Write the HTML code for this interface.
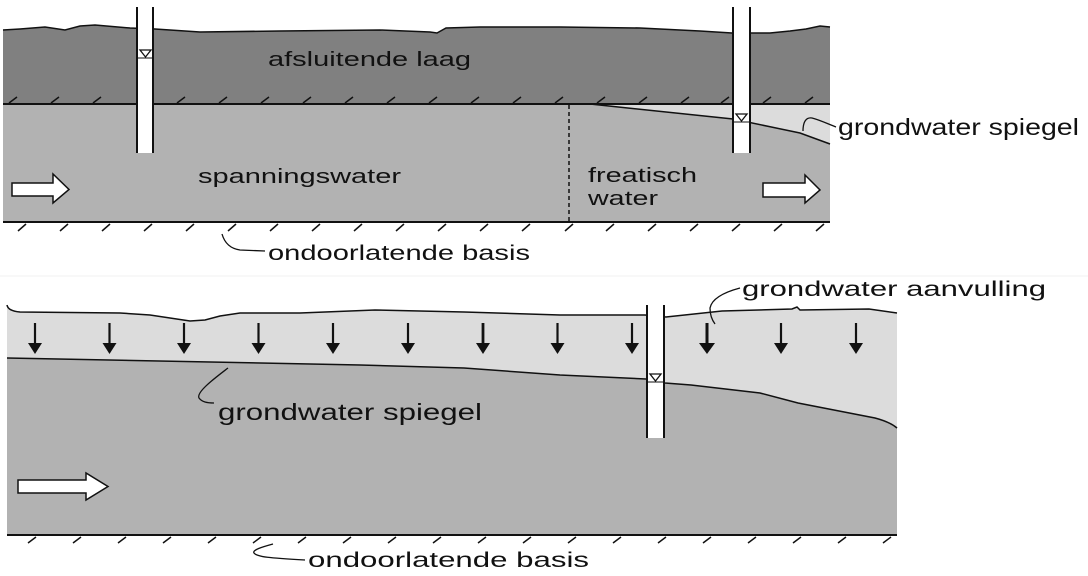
<!DOCTYPE html>
<html><head><meta charset="utf-8"><style>
html,body{margin:0;padding:0;background:#fff;}
svg{display:block;}
text{font-family:"Liberation Sans",Arial,sans-serif;fill:#111;}
</style></head><body>
<svg width="1088" height="576" viewBox="0 0 1088 576" xmlns="http://www.w3.org/2000/svg">
<rect width="1088" height="576" fill="#fff"/>
<line x1="0" y1="276" x2="1088" y2="276" stroke="#f0f0f0" stroke-width="1"/>

<!-- ===== TOP DIAGRAM ===== -->
<!-- aquifer -->
<rect x="3" y="104" width="827" height="118" fill="#b2b2b2"/>
<!-- phreatic light zone -->
<polygon points="590,104 830,104 830,143 800,133 733,119" fill="#dcdcdc"/>
<!-- confining layer -->
<path d="M3,30 L20,29 L45,27 L65,30 L80,26 L95,25 L130,28 L155,29 L200,32 L280,31 L380,30 L430,32 L437,33 L446,28 L480,27 L560,27 L640,28 L700,31 L732,33 L770,33 L790,31 L806,29 L820,26 L830,27 L830,104 L3,104 Z" fill="#808080"/>
<path d="M3,30 L20,29 L45,27 L65,30 L80,26 L95,25 L130,28 L155,29 L200,32 L280,31 L380,30 L430,32 L437,33 L446,28 L480,27 L560,27 L640,28 L700,31 L732,33 L770,33 L790,31 L806,29 L820,26 L830,27" fill="none" stroke="#111" stroke-width="1.5"/>
<line x1="3" y1="104" x2="830" y2="104" stroke="#111" stroke-width="2"/>
<line x1="3" y1="222" x2="830" y2="222" stroke="#111" stroke-width="2"/>
<!-- water table -->
<polyline points="590,104 733,119 800,133 830,144" fill="none" stroke="#111" stroke-width="1.5"/>
<!-- dashed divider -->
<line x1="569" y1="105" x2="569" y2="222" stroke="#111" stroke-width="1.5" stroke-dasharray="4,3"/>
<!-- hatches top boundary -->
<g stroke="#111" stroke-width="1.5" fill="none">
<path d="M9,103 L17,97"/><path d="M51,103 L59,97"/><path d="M93,103 L101,97"/>
<path d="M177,103 L185,97"/><path d="M219,103 L227,97"/><path d="M261,103 L269,97"/>
<path d="M303,103 L311,97"/><path d="M345,103 L353,97"/><path d="M387,103 L395,97"/>
<path d="M429,103 L437,97"/><path d="M471,103 L479,97"/><path d="M513,103 L521,97"/>
<path d="M555,103 L563,97"/><path d="M597,103 L605,97"/><path d="M639,103 L647,97"/>
<path d="M681,103 L689,97"/><path d="M721,103 L729,97"/><path d="M763,103 L771,97"/>
<path d="M805,103 L813,97"/>
</g>
<!-- hatches bottom -->
<g stroke="#111" stroke-width="1.5" fill="none">
<path d="M18,231 L26,224"/><path d="M60,231 L68,224"/><path d="M102,231 L110,224"/>
<path d="M144,231 L152,224"/><path d="M186,231 L194,224"/><path d="M228,231 L236,224"/>
<path d="M270,231 L278,224"/><path d="M312,231 L320,224"/><path d="M354,231 L362,224"/>
<path d="M396,231 L404,224"/><path d="M438,231 L446,224"/><path d="M480,231 L488,224"/>
<path d="M522,231 L530,224"/><path d="M565,231 L573,224"/><path d="M606,231 L614,224"/>
<path d="M648,231 L656,224"/><path d="M690,231 L698,224"/><path d="M732,231 L740,224"/>
<path d="M774,231 L782,224"/><path d="M816,231 L824,224"/>
</g>
<!-- well 1 -->
<rect x="137" y="7" width="16" height="146" fill="#fff"/>
<line x1="137" y1="7" x2="137" y2="153" stroke="#111" stroke-width="2"/>
<line x1="153" y1="7" x2="153" y2="153" stroke="#111" stroke-width="2"/>
<polygon points="140,50 151,50 145.5,57" fill="#fff" stroke="#111" stroke-width="1.3"/>
<line x1="137" y1="58" x2="153" y2="58" stroke="#111" stroke-width="1"/>
<!-- well 2 -->
<rect x="733" y="7" width="17" height="146" fill="#fff"/>
<line x1="733" y1="7" x2="733" y2="153" stroke="#111" stroke-width="2"/>
<line x1="750" y1="7" x2="750" y2="153" stroke="#111" stroke-width="2"/>
<polygon points="736,114 747,114 741.5,121" fill="#fff" stroke="#111" stroke-width="1.3"/>
<line x1="733" y1="122" x2="750" y2="122" stroke="#111" stroke-width="1"/>
<!-- flow arrows -->
<polygon points="12,183 53,183 53,174 69,189.5 53,203 53,196 12,196" fill="#fff" stroke="#111" stroke-width="1.5"/>
<polygon points="763,183 805,183 805,175 820,190 805,203 805,197 763,197" fill="#fff" stroke="#111" stroke-width="1.5"/>
<!-- leaders -->
<path d="M222,234 Q226,248 240,250 L265,251" fill="none" stroke="#111" stroke-width="1.3"/>
<path d="M803,131 C803,122 806,117 812,118 C820,120 828,124 836,127" fill="none" stroke="#111" stroke-width="1.3"/>
<!-- labels -->
<text x="268" y="66" font-size="20" textLength="203" lengthAdjust="spacingAndGlyphs">afsluitende laag</text>
<text x="198" y="183" font-size="20" textLength="203" lengthAdjust="spacingAndGlyphs">spanningswater</text>
<text x="588" y="182" font-size="20" textLength="109" lengthAdjust="spacingAndGlyphs">freatisch</text>
<text x="588" y="205" font-size="20" textLength="70" lengthAdjust="spacingAndGlyphs">water</text>
<text x="268" y="260" font-size="21" textLength="262" lengthAdjust="spacingAndGlyphs">ondoorlatende basis</text>
<text x="838" y="135" font-size="23" textLength="241" lengthAdjust="spacingAndGlyphs">grondwater spiegel</text>

<!-- ===== BOTTOM DIAGRAM ===== -->
<path d="M7,305 Q8,311 20,312 L120,313 L150,315 L190,321 L205,320 L220,316 L240,313 L300,313 L375,310 L464,312 L560,315 L645,315 L666,317 L722,311 L792,309 L797,307 L800,310 L869,309 L897,313 L897,535 L7,535 Z" fill="#dcdcdc"/>
<path d="M7,358 L360,365 L464,368 L560,375 L646,379 L665,383 L691,385 L760,393 L798,403 L875,418 Q890,422 897,428 L897,535 L7,535 Z" fill="#b2b2b2"/>
<path d="M7,305 Q8,311 20,312 L120,313 L150,315 L190,321 L205,320 L220,316 L240,313 L300,313 L375,310 L464,312 L560,315 L645,315 L666,317 L722,311 L792,309 L797,307 L800,310 L869,309 L897,313" fill="none" stroke="#111" stroke-width="1.5"/>
<path d="M7,358 L360,365 L464,368 L560,375 L646,379 L665,383 L691,385 L760,393 L798,403 L875,418 Q890,422 897,428" fill="none" stroke="#111" stroke-width="1.5"/>
<line x1="7" y1="535" x2="897" y2="535" stroke="#111" stroke-width="2"/>
<!-- hatches -->
<g stroke="#111" stroke-width="1.5" fill="none">
<path d="M28,543 L36,537"/><path d="M73,543 L81,537"/><path d="M118,543 L126,537"/>
<path d="M163,543 L171,537"/><path d="M208,543 L216,537"/><path d="M253,543 L261,537"/>
<path d="M298,543 L306,537"/><path d="M343,543 L351,537"/><path d="M388,543 L396,537"/>
<path d="M433,543 L441,537"/><path d="M478,543 L486,537"/><path d="M523,543 L531,537"/>
<path d="M568,543 L576,537"/><path d="M613,543 L621,537"/><path d="M658,543 L666,537"/>
<path d="M703,543 L711,537"/><path d="M748,543 L756,537"/><path d="M793,543 L801,537"/>
<path d="M838,543 L846,537"/><path d="M883,543 L891,537"/>
</g>
<!-- recharge arrows -->
<g stroke="#111" stroke-width="2.2" fill="#111">
<line x1="35" y1="323" x2="35" y2="345"/><polygon points="28,343 42,343 35,354" stroke="none"/>
<line x1="109.5" y1="323" x2="109.5" y2="345"/><polygon points="102.5,343 116.5,343 109.5,354" stroke="none"/>
<line x1="184" y1="323" x2="184" y2="345"/><polygon points="177,343 191,343 184,354" stroke="none"/>
<line x1="258.5" y1="323" x2="258.5" y2="345"/><polygon points="251.5,343 265.5,343 258.5,354" stroke="none"/>
<line x1="333" y1="323" x2="333" y2="345"/><polygon points="326,343 340,343 333,354" stroke="none"/>
<line x1="408" y1="323" x2="408" y2="345"/><polygon points="401,343 415,343 408,354" stroke="none"/>
<line x1="483" y1="323" x2="483" y2="345" stroke-width="2.8"/><polygon points="476,343 490,343 483,354" stroke="none"/>
<line x1="557.5" y1="323" x2="557.5" y2="345"/><polygon points="550.5,343 564.5,343 557.5,354" stroke="none"/>
<line x1="632" y1="323" x2="632" y2="345"/><polygon points="625,343 639,343 632,354" stroke="none"/>
<line x1="707" y1="323" x2="707" y2="345" stroke-width="3"/><polygon points="699,343 715,343 707,354" stroke="none"/>
<line x1="781" y1="323" x2="781" y2="345"/><polygon points="774,343 788,343 781,354" stroke="none"/>
<line x1="856" y1="323" x2="856" y2="345"/><polygon points="849,343 863,343 856,354" stroke="none"/>
</g>
<!-- well -->
<rect x="647" y="305" width="17" height="133" fill="#fff"/>
<line x1="647" y1="305" x2="647" y2="438" stroke="#111" stroke-width="2"/>
<line x1="664" y1="305" x2="664" y2="438" stroke="#111" stroke-width="2"/>
<polygon points="650,374 661,374 655.5,381" fill="#fff" stroke="#111" stroke-width="1.3"/>
<line x1="647" y1="382" x2="664" y2="382" stroke="#111" stroke-width="1"/>
<!-- flow arrow -->
<polygon points="18,480 86,480 86,473 108,486.5 86,500 86,493 18,493" fill="#fff" stroke="#111" stroke-width="1.5"/>
<!-- leaders -->
<path d="M228,368 C215,378 196,392 199,398 C202,402 207,403 214,403" fill="none" stroke="#111" stroke-width="1.3"/>
<path d="M740,288 C725,292 712,298 710,308 C710,315 712,320 715,324" fill="none" stroke="#111" stroke-width="1.3"/>
<path d="M273,544 C262,547 252,550 254,553 C257,557 270,558 305,560" fill="none" stroke="#111" stroke-width="1.3"/>
<!-- labels -->
<text x="218" y="420" font-size="23" textLength="264" lengthAdjust="spacingAndGlyphs">grondwater spiegel</text>
<text x="742" y="296" font-size="21" textLength="304" lengthAdjust="spacingAndGlyphs">grondwater aanvulling</text>
<text x="308" y="567" font-size="21" textLength="281" lengthAdjust="spacingAndGlyphs">ondoorlatende basis</text>
</svg>
</body></html>
